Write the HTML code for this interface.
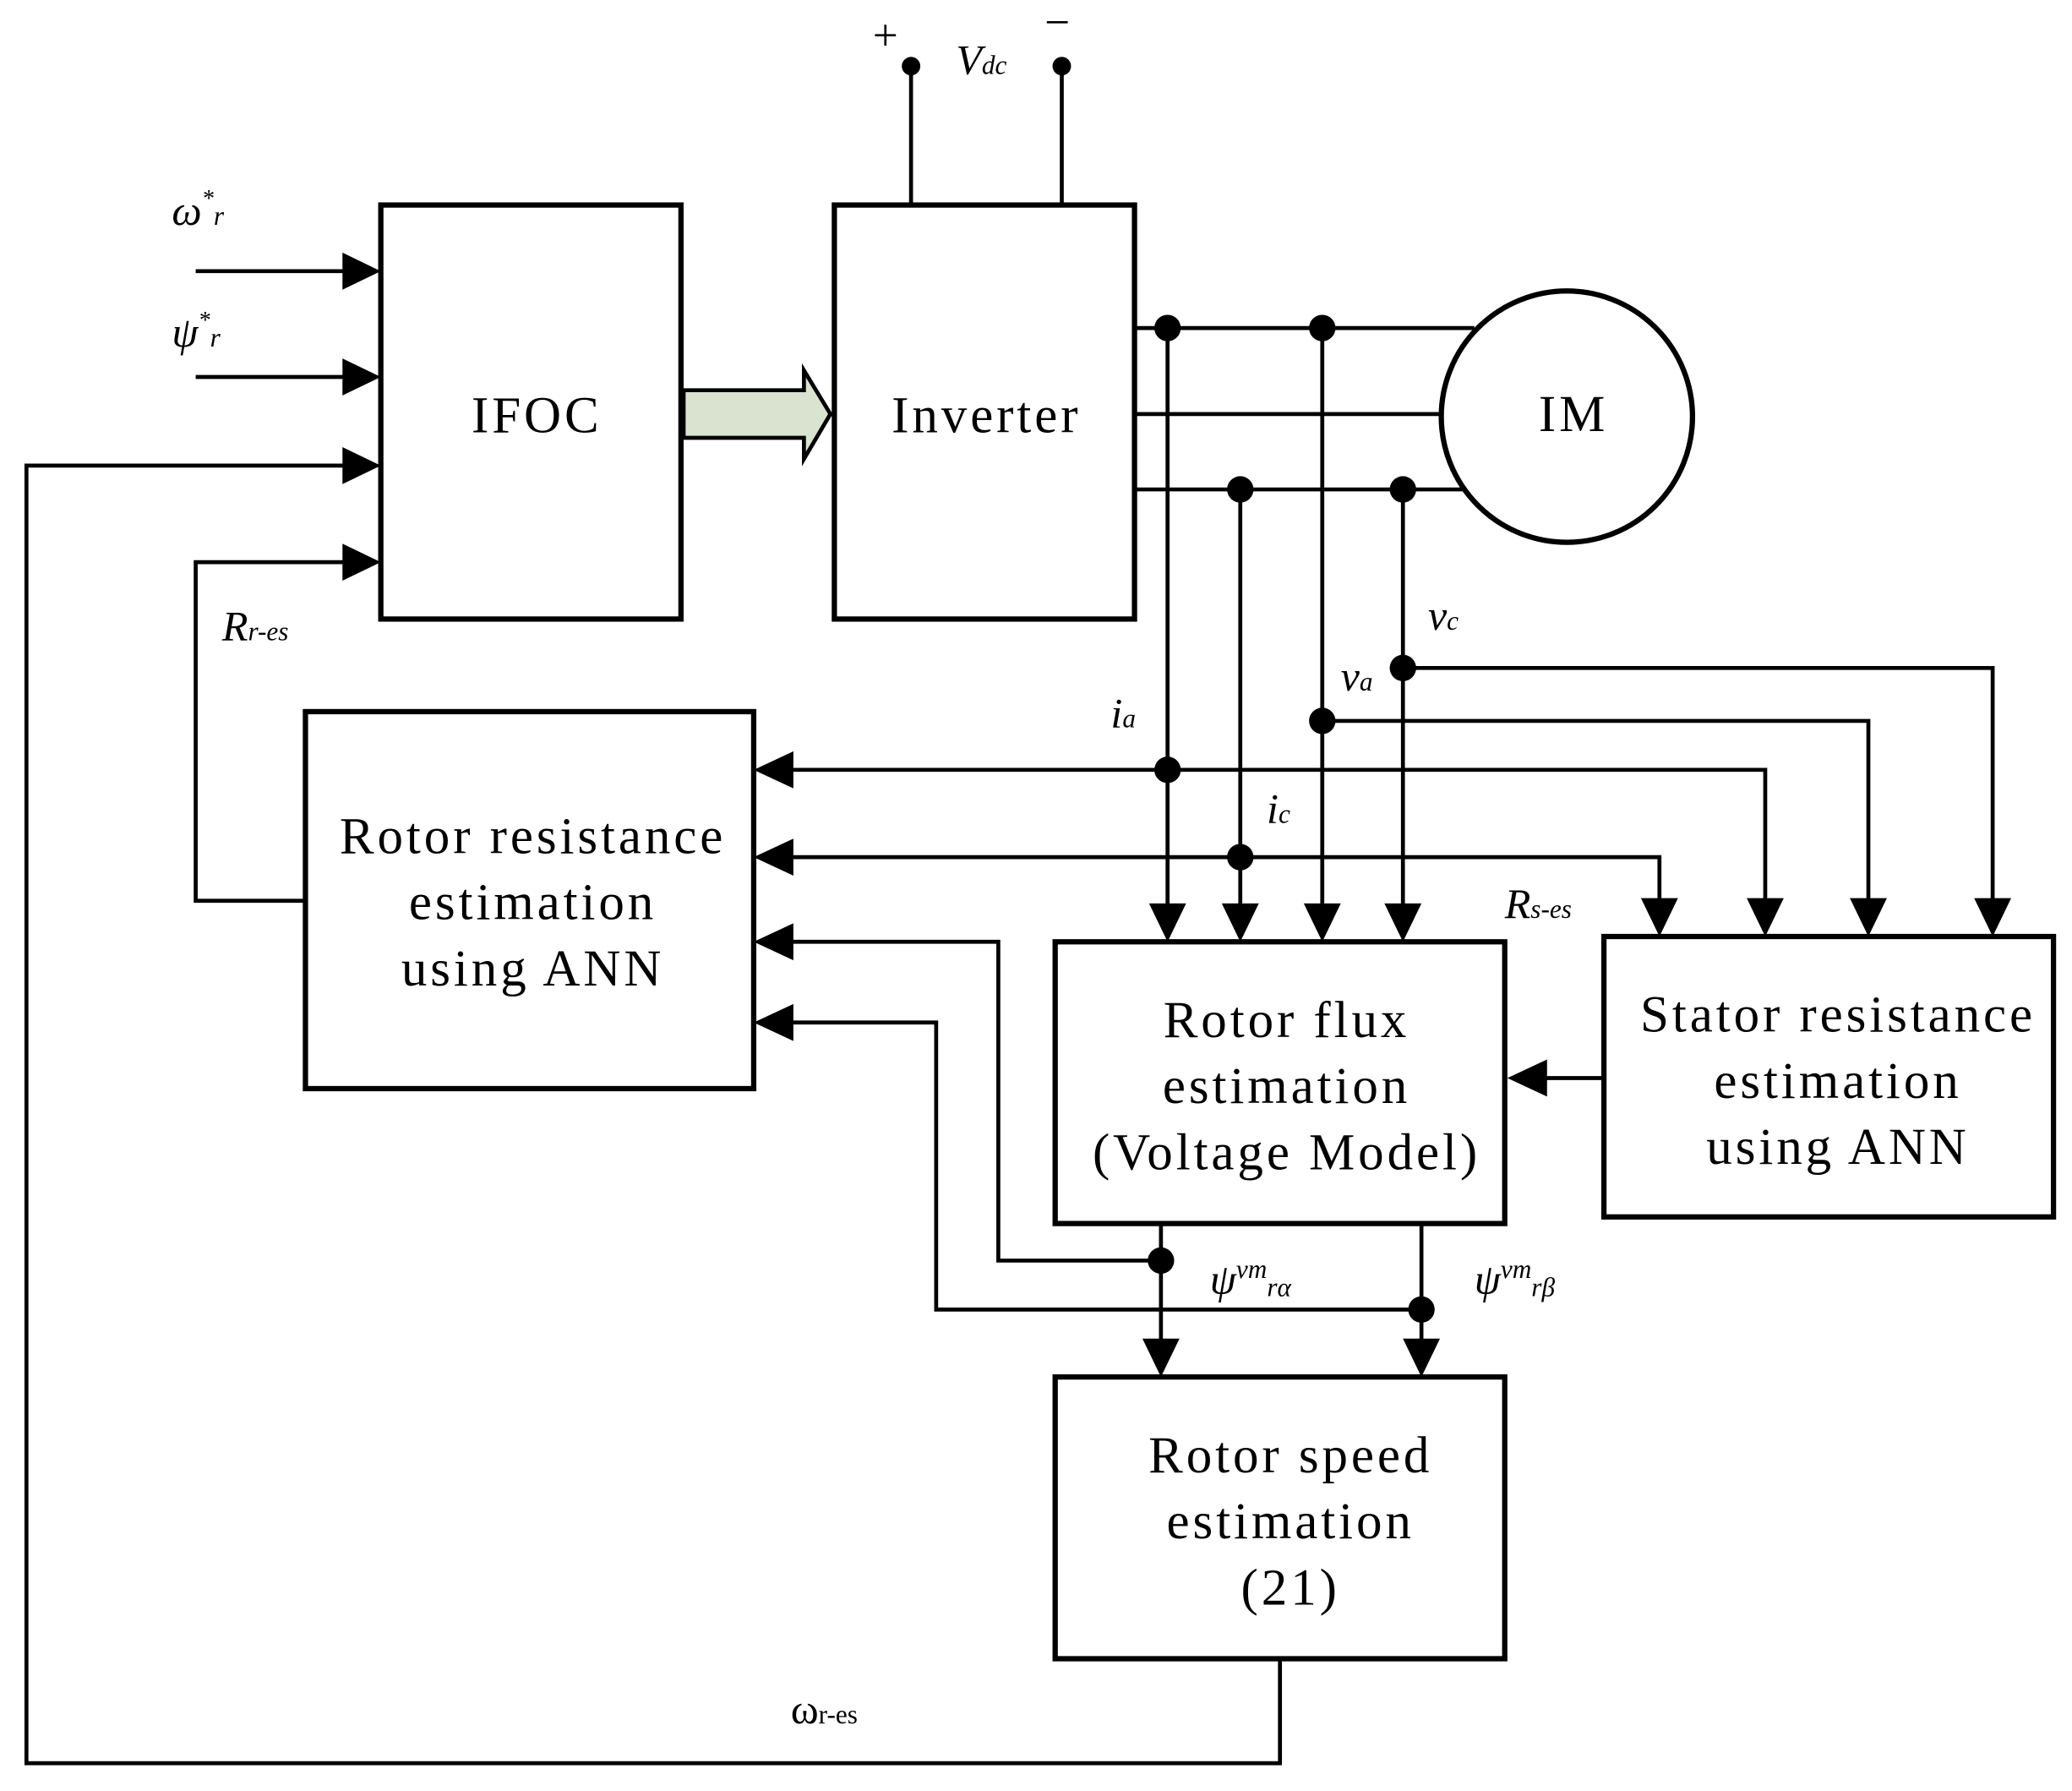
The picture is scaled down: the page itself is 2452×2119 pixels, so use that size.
<!DOCTYPE html>
<html><head><meta charset="utf-8"><style>
html,body{margin:0;padding:0;background:#fff}
svg{display:block}
text{font-family:"Liberation Serif",serif;fill:#000}
</style></head><body>
<svg width="2452" height="2119" viewBox="0 0 1567 1354" preserveAspectRatio="none" xmlns="http://www.w3.org/2000/svg">
<g fill="none" stroke="#000" stroke-width="4">
<rect x="288" y="155" width="227" height="313"/>
<rect x="631" y="155" width="227" height="313"/>
<rect x="231" y="538" width="339" height="285"/>
<rect x="798" y="712" width="340" height="213"/>
<rect x="1213" y="708" width="340" height="212"/>
<rect x="798" y="1041" width="340" height="213"/>
<circle cx="1185" cy="315" r="95"/>
</g>
<g fill="none" stroke="#000" stroke-width="3">
<polyline points="689,50 689,155"/>
<polyline points="803,50 803,155"/>
<polyline points="858,248 1115,248"/>
<polyline points="858,313 1090,313"/>
<polyline points="858,370 1107,370"/>
<polyline points="883,248 883,685"/>
<polyline points="938,370 938,685"/>
<polyline points="1000,248 1000,685"/>
<polyline points="1061,370 1061,685"/>
<polyline points="1061,505 1507,505 1507,681"/>
<polyline points="1000,545 1413,545 1413,681"/>
<polyline points="598,582 1335,582 1335,681"/>
<polyline points="598,648 1255,648 1255,681"/>
<polyline points="1213,815 1167,815"/>
<polyline points="878,925 878,1014"/>
<polyline points="1075,925 1075,1014"/>
<polyline points="878,953 755,953 755,712 598,712"/>
<polyline points="1075,990 708,990 708,773 598,773"/>
<polyline points="231,681 148,681 148,425 261,425"/>
<polyline points="968,1254 968,1333 20,1333 20,352 261,352"/>
<polyline points="148,205 261,205"/>
<polyline points="148,285 261,285"/>
</g>
<g fill="#000">
<circle cx="689" cy="50" r="7"/><circle cx="803" cy="50" r="7"/>
<circle cx="883" cy="248" r="10"/><circle cx="1000" cy="248" r="10"/>
<circle cx="938" cy="370" r="10"/><circle cx="1061" cy="370" r="10"/>
<circle cx="1061" cy="505" r="10"/><circle cx="1000" cy="545" r="10"/>
<circle cx="883" cy="582" r="10"/><circle cx="938" cy="648" r="10"/>
<circle cx="878" cy="953" r="10"/><circle cx="1075" cy="990" r="10"/>
<polygon points="288,205 259,191 259,219"/>
<polygon points="288,285 259,271 259,299"/>
<polygon points="288,352 259,338 259,366"/>
<polygon points="288,425 259,411 259,439"/>
<polygon points="883,712 869,683 897,683"/>
<polygon points="938,712 924,683 952,683"/>
<polygon points="1000,712 986,683 1014,683"/>
<polygon points="1061,712 1047,683 1075,683"/>
<polygon points="1255,708 1241,679 1269,679"/>
<polygon points="1335,708 1321,679 1349,679"/>
<polygon points="1413,708 1399,679 1427,679"/>
<polygon points="1507,708 1493,679 1521,679"/>
<polygon points="878,1041 864,1012 892,1012"/>
<polygon points="1075,1041 1061,1012 1089,1012"/>
<polygon points="570,582 600,568 600,596"/>
<polygon points="570,648 600,634 600,662"/>
<polygon points="570,712 600,698 600,726"/>
<polygon points="570,773 600,759 600,787"/>
<polygon points="1140,815 1170,801 1170,829"/>
</g>
<polygon points="517,295 608,295 608,280 628,313 608,347 608,331 517,331" fill="#d9e3d0" stroke="#000" stroke-width="3"/>
<g font-size="39" text-anchor="middle" letter-spacing="2.5">
<text x="406" y="327">IFOC</text>
<text x="746" y="327">Inverter</text>
<text x="1190" y="326">IM</text>
<text x="403" y="645">Rotor resistance</text>
<text x="403" y="695">estimation</text>
<text x="403" y="745">using ANN</text>
<text x="973" y="784">Rotor flux</text>
<text x="973" y="834">estimation</text>
<text x="973" y="884">(Voltage Model)</text>
<text x="1390" y="780">Stator resistance</text>
<text x="1390" y="830">estimation</text>
<text x="1390" y="880">using ANN</text>
<text x="976" y="1113">Rotor speed</text>
<text x="976" y="1163">estimation</text>
<text x="976" y="1213">(21)</text>
</g>
<g font-size="32" font-style="italic">
<text x="660" y="38" font-style="normal" font-size="34">+</text>
<text x="790" y="28" font-style="normal" font-size="34">−</text>
<text x="723" y="56">V<tspan font-size="20">dc</tspan></text>
<text x="130" y="170">ω<tspan font-size="18" dy="-14">*</tspan><tspan font-size="20" dy="14">r</tspan></text>
<text x="130" y="262">ψ<tspan font-size="18" dy="-14">*</tspan><tspan font-size="20" dy="14">r</tspan></text>
<text x="168" y="484">R<tspan font-size="20">r-es</tspan></text>
<text x="1080" y="476">v<tspan font-size="20">c</tspan></text>
<text x="1014" y="522">v<tspan font-size="20">a</tspan></text>
<text x="840" y="550">i<tspan font-size="20">a</tspan></text>
<text x="958" y="622">i<tspan font-size="20">c</tspan></text>
<text x="1138" y="694">R<tspan font-size="20">s-es</tspan></text>
<text x="915" y="978">ψ<tspan font-size="20" dy="-12">vm</tspan><tspan font-size="20" dy="14">rα</tspan></text>
<text x="1115" y="978">ψ<tspan font-size="20" dy="-12">vm</tspan><tspan font-size="20" dy="14">rβ</tspan></text>
<text x="598" y="1303" font-style="normal">ω<tspan font-size="20">r-es</tspan></text>
</g>
</svg>
</body></html>
